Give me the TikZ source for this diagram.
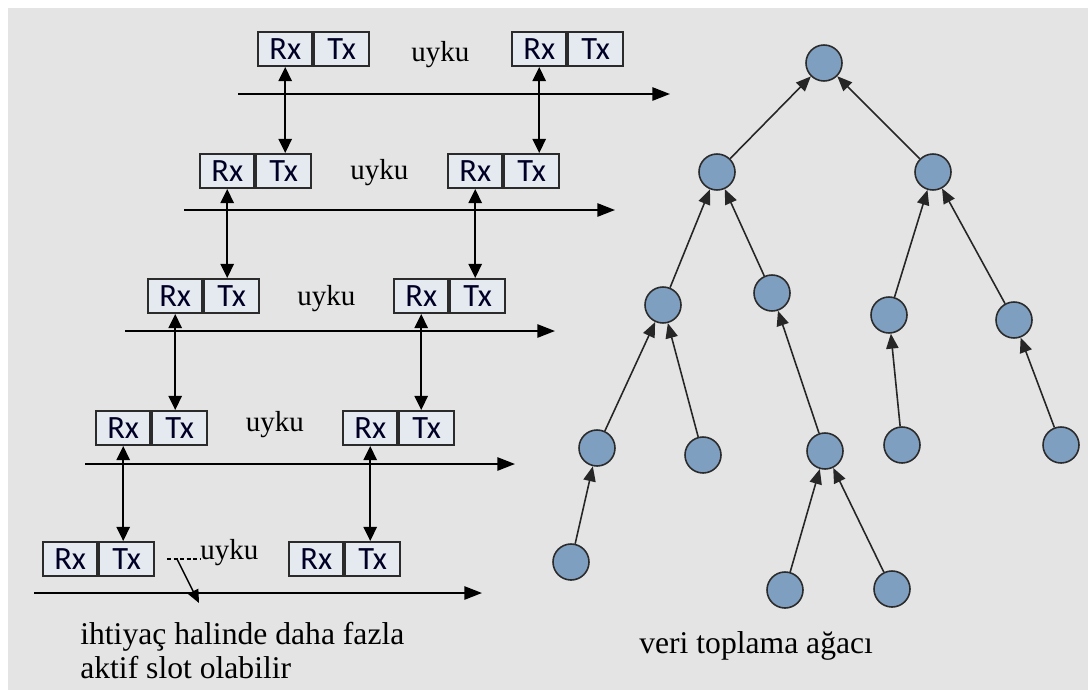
\documentclass[tikz,border=0pt]{standalone}
\usepackage{fontspec}
\setmainfont{Liberation Serif}
\newfontfamily\slotfont{Carlito}
\usepackage{tikz}
\usetikzlibrary{positioning,arrows.meta}
\usepackage{xcolor}

\definecolor{panelgray}{HTML}{E4E4E4}
\definecolor{slotfill}{HTML}{E4EAF0}
\definecolor{nodeblue}{HTML}{7F9FC1}
\definecolor{inkdark}{HTML}{2B2B2B}

\tikzset{
    slot/.style={draw=inkdark, line width=1.1pt, fill=slotfill, minimum width=1.09cm, minimum height=0.68cm,
        inner sep=0pt, font=\slotfont\fontsize{18.5}{19}\selectfont, text=black!85!blue},
    timeline/.style={-{Triangle[length=10pt,width=7.5pt]}, line width=1.1pt},
    link/.style={{Triangle[length=8pt,width=7.5pt]}-{Triangle[length=8pt,width=7.5pt]}, line width=1.1pt},
    sleep/.style={font=\fontsize{16.5}{19}\selectfont, inner sep=0pt},
    sensor/.style={circle, draw=inkdark, line width=0.9pt, fill=nodeblue, minimum size=0.72cm, inner sep=0pt},
    uplink/.style={-{Triangle[length=8.5pt,width=7pt]}, line width=0.9pt, draw=black!85, fill=black}
}

\begin{document}
\begin{tikzpicture}[x=0.02cm, y=-0.02cm]

    \useasboundingbox (0,0) rectangle (1088,690);
    \fill[panelgray] (8,8) rectangle (1088,690);

    % =========================================================================
    % LEFT: staggered Rx/Tx slots, one row per tree level
    % =========================================================================
    \foreach \r/\xa/\xb/\yb/\yt/\ts/\te in {1/257/511/49/94/238/670, 2/199/447/171/210/184/615,
                                             3/147/393/296/331/125/555, 4/95/342/428/464/85/515,
                                             5/42/288/559/593/34/482} {
        \node[slot, anchor=west] (rxa\r) at (\xa,\yb) {Rx};
        \node[slot, right=0pt of rxa\r] (txa\r) {Tx};
        \node[slot, anchor=west] (rxb\r) at (\xb,\yb) {Rx};
        \node[slot, right=0pt of rxb\r] (txb\r) {Tx};
        \coordinate (ts\r) at (\ts,\yt);
        \coordinate (te\r) at (\te,\yt);
        \draw[timeline] (ts\r) -- (te\r);
    }

    % sleep gap between the two active slots
    \foreach \r/\dy in {1/6, 2/2, 3/3, 4/-3}
        \path (txa\r.east) -- (rxb\r.west) node[sleep, midway, yshift=-\dy*0.02cm] (uyku\r) {uyku};

    % Rx of one level talks to Tx of the level below
    \foreach \r/\s in {1/2, 2/3, 3/4, 4/5} {
        \draw[link] (rxa\r.south) -- (rxa\r.south |- txa\s.north);
        \draw[link] (rxb\r.south) -- (rxb\r.south |- txb\s.north);
    }

    % last row: extra slots if needed
    \node[sleep, anchor=west] (uyku5) at (200,553) {uyku};
    \coordinate (gap5) at (167,559);
    \draw[line width=0.8pt, dash pattern=on 2.5pt off 1.2pt] (gap5) -- (uyku5.west |- gap5);
    \coordinate (bend5) at (177,559);
    \coordinate (extra5) at (199,603);
    \draw[-{Triangle[length=7.5pt,width=6.5pt]}, line width=0.8pt] (bend5) -- (extra5);

    \node[anchor=north west, align=left, inner sep=0pt, font=\fontsize{18}{19.3}\selectfont] (note) at (80,622)
        {ihtiyaç halinde daha fazla\\aktif slot olabilir};

    % =========================================================================
    % RIGHT: data gathering tree, children report to parents
    % =========================================================================
    \foreach \n/\x/\y in {sink/824/63, a/717/172, b/933/172, aa/663/305, ab/772/293, ba/889/315, bb/1014/320,
                          aaa/597/448, aab/703/455, aba/825/451, baa/902/445, bba/1061/445,
                          aaaa/571/562, abaa/785/590, abab/892/589}
        \node[sensor] (\n) at (\x,\y) {};

    \foreach \c/\p in {a/sink, b/sink, aa/a, ab/a, ba/b, bb/b, aaa/aa, aab/aa, aba/ab, baa/ba, bba/bb,
                       aaaa/aaa, abaa/aba, abab/aba}
        \draw[uplink] (\c) -- (\p);

    \node[anchor=base west, inner sep=0pt, font=\fontsize{18}{19.3}\selectfont] (caption) at (639,653) {veri toplama ağacı};

\end{tikzpicture}
\end{document}
